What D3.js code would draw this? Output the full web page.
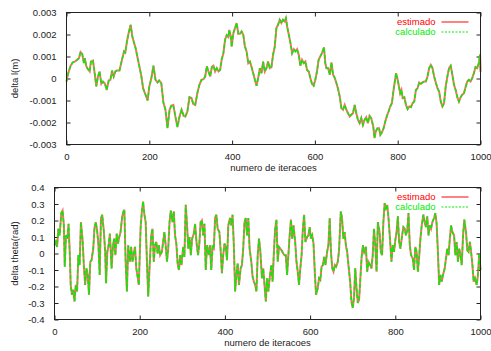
<!DOCTYPE html>
<html>
<head>
<meta charset="utf-8">
<script src="https://cdn.jsdelivr.net/npm/d3@7"></script>
<style>
  html, body { margin: 0; padding: 0; background: #fff; }
  svg text { font-family: "Liberation Sans", Arial, sans-serif; font-size: 9.5px; fill: #222; }
  .frame { fill: none; stroke: #222; stroke-width: 1; }
  .tick line { stroke: #222; }
  .line-est { fill: none; stroke: #ff3030; stroke-width: 2; stroke-opacity: 0.7; }
  .line-calc { fill: none; stroke: #00f000; stroke-width: 1.5; stroke-dasharray: 4 2; }
</style>
</head>
<body>
<svg id="chart" width="491" height="351"></svg>
<script>
// ---- data ----
const xTicks = [0, 200, 400, 600, 800, 1000];
const topYTicks = [-0.003, -0.002, -0.001, 0, 0.001, 0.002, 0.003];
const bottomYTicks = [-0.4, -0.3, -0.2, -0.1, 0, 0.1, 0.2, 0.3, 0.4];
const seriesNames = ["estimado", "calculado"];
const xLabel = "numero de iteracoes";
const topYLabel = "delta l(m)";
const bottomYLabel = "delta theta(rad)";

// delta l: [iteration, value]
const deltaLEstimado = [
  [0,-0.00014],[4,0.00024],[10,0.00058],[15,0.00073],[20,0.00077],[26,0.00085],[30,0.00092],[34,0.0012],
  [38,0.00112],[42,0.0007],[44,0.00092],[48,0.00055],[52,0.00042],[56,0.00032],[59,0.00077],[64,0.00082],
  [68,0.00024],[72,-0.00036],[76,0.00009],[80,0.00032],[84,-0.00024],[88,-0.00014],[93,-0.00024],[97,-0.00052],
  [102,-0.00009],[106,-0.00006],[110,0.00036],[114,0.00009],[118,0.00032],[122,0.00036],[128,0.00036],[134,0.00085],
  [139,0.00123],[142,0.00118],[146,0.00168],[150,0.00206],[155,0.00244],[159,0.00191],[163,0.00164],[167,0.00138],
  [171,0.001],[176,0.00055],[181,0.00009],[185,-0.00044],[191,-0.00074],[196,-0.001],[200,-0.00036],[205,0.00002],
  [210,0.00058],[215,-0.00006],[220,-0.00018],[224,-0.00009],[229,-0.00021],[234,-0.00109],[239,-0.00142],[244,-0.00226],
  [249,-0.00142],[253,-0.00124],[258,-0.0012],[263,-0.00173],[268,-0.00221],[273,-0.00173],[278,-0.00142],[283,-0.0017],
  [287,-0.00173],[292,-0.0015],[297,-0.00085],[302,-0.00089],[306,-0.00115],[311,-0.0012],[316,-0.00067],[321,-0.00029],
  [326,-0.00006],[331,-0.00003],[335,0.00009],[339,0.00055],[343,0.00032],[347,0.00009],[351,0.00052],[355,0.00058],
  [359,0.00032],[363,0.00047],[367,0.00032],[371,0.00039],[375,0.00088],[379,0.00115],[383,0.00176],[387,0.00197],
  [391,0.00188],[393,0.00221],[397,0.00191],[399,0.00145],[403,0.00206],[407,0.00229],[411,0.00252],[415,0.00203],
  [419,0.00203],[423,0.00214],[427,0.00199],[431,0.00145],[435,0.00123],[439,0.0007],[443,0.00077],[447,0.00052],
  [451,0.00024],[455,-0.00006],[459,-0.00033],[463,0.00002],[467,0.00047],[471,0.00024],[475,0.00077],[479,0.00032],
  [483,0.00047],[487,0.00077],[491,0.00047],[495,0.00052],[499,0.00108],[503,0.00145],[507,0.00229],[511,0.00244],
  [515,0.00267],[519,0.00252],[523,0.00267],[527,0.00259],[530,0.00274],[533,0.00236],[537,0.00199],[541,0.00161],
  [545,0.00115],[549,0.00133],[553,0.00123],[557,0.00133],[561,0.00108],[565,0.00058],[569,0.00085],[573,0.0007],
  [577,0.00077],[581,0.00039],[585,0.00032],[589,0.00002],[593,-0.00024],[597,-0.00033],[601,-0.00006],[605,0.00032],
  [609,0.00085],[613,0.001],[617,0.00115],[622,0.00142],[625,0.0007],[628,0.00047],[632,0.00047],[636,0.00017],
  [640,0.00073],[644,0.00017],[648,0.00002],[652,-0.00021],[656,-0.00048],[660,-0.00082],[664,-0.00135],[668,-0.00142],
  [672,-0.0012],[676,-0.00142],[680,-0.00158],[684,-0.00173],[688,-0.00165],[692,-0.00158],[696,-0.0012],[700,-0.00158],
  [704,-0.00188],[708,-0.00203],[712,-0.0018],[716,-0.00211],[720,-0.00188],[724,-0.00176],[728,-0.00203],[732,-0.0017],
  [736,-0.0018],[741,-0.00218],[744,-0.00271],[747,-0.00241],[751,-0.00226],[755,-0.00226],[758,-0.00256],[762,-0.00245],
  [766,-0.00226],[770,-0.00195],[774,-0.0017],[778,-0.0015],[782,-0.00127],[786,-0.00112],[790,-0.00052],[793,-0.00014],
  [796,0.00024],[799,0.00002],[803,-0.00036],[806,-0.00067],[809,-0.00052],[812,-0.00089],[816,-0.00085],[820,-0.0012],
  [824,-0.00139],[828,-0.00127],[832,-0.0013],[836,-0.00112],[840,-0.00105],[844,-0.00052],[848,-0.00044],[852,-0.00018],
  [856,-0.00024],[860,-0.00018],[864,-0.00014],[868,-0.00014],[872,0.00009],[876,0.00047],[880,0.00062],[884,0.00047],
  [888,0.00009],[892,-0.00018],[896,-0.00044],[900,-0.00059],[904,-0.00105],[908,-0.00127],[912,-0.00112],[916,-0.00036],
  [920,0.00009],[924,0.00047],[928,0.00058],[932,0.00017],[936,-0.00029],[940,-0.00052],[944,-0.00085],[948,-0.00105],
  [952,-0.00085],[956,-0.00074],[960,-0.00067],[964,-0.00039],[968,-0.00014],[972,-0.00006],[976,-0.00014],[980,0.00002],
  [984,0.00024],[988,0.00052],[992,0.00047],[996,0.0007],[999,0.0011],[1000,0.0003]
];
// calculado overlaps estimado to within a pixel in the picture
const deltaLCalculado = deltaLEstimado;

// delta theta: [iteration, value]
const deltaThetaEstimado = [
  [0,0.05],[3,0.07],[6,0.04],[9,0.15],[12,0.11],[16,0.245],[19,0.26],[22,0.17],[24,-0.08],[27,0.11],[30,0.09],[33,0.18],
  [36,-0.01],[38,-0.19],[41,-0.25],[44,-0.22],[47,-0.29],[50,-0.19],[53,-0.23],[56,-0.01],[59,-0.07],[62,0.19],[66,0.08],
  [69,-0.08],[72,-0.19],[75,-0.09],[78,-0.13],[81,-0.25],[84,-0.05],[87,-0.04],[91,0.03],[94,0.16],[97,0.19],[100,0.14],
  [103,0.06],[106,-0.13],[109,0.21],[112,0.235],[116,0.13],[119,0.01],[121,-0.18],[124,0.01],[127,0.05],[130,0.12],
  [134,-0.09],[137,0.04],[140,0.09],[143,-0.01],[146,0.12],[149,0.06],[152,0.1],[155,0.13],[159,0.225],[162,0.255],
  [164,0.265],[167,-0.05],[170,-0.23],[173,0.05],[177,-0.05],[180,0.04],[183,-0.05],[186,0],[189,0.04],[192,-0.09],
  [195,-0.14],[198,-0.19],[202,0.15],[205,0.255],[208,0.315],[211,0.235],[214,0.19],[217,-0.05],[220,-0.26],[223,-0.09],
  [227,0.11],[230,0.15],[233,-0.05],[236,0.05],[239,0.07],[242,0],[245,0.05],[248,-0.01],[252,0.01],[255,0.07],[258,0.13],
  [261,0.05],[264,-0.05],[267,0.03],[270,0.19],[273,0.26],[277,0.19],[280,0.255],[283,0.11],[286,0.06],[289,-0.06],
  [292,-0.1],[295,-0.01],[298,-0.07],[302,0.04],[305,-0.02],[308,0.295],[311,0.18],[314,0.03],[317,0.1],[320,-0.01],
  [323,0.09],[327,0.12],[330,0.18],[334,0.05],[337,-0.01],[340,0.06],[343,0.19],[346,0.2],[349,0.11],[352,0.18],
  [355,-0.1],[358,0.05],[362,-0.01],[365,0.05],[368,-0.1],[371,0.04],[374,0.03],[377,0.215],[380,0.235],[383,0.15],
  [387,0.13],[390,0.02],[393,-0.12],[396,-0.01],[399,0.06],[402,0.04],[405,-0.04],[408,0.17],[412,0.215],[415,0.17],
  [418,0.235],[421,0.05],[424,-0.23],[427,-0.13],[430,-0.06],[433,-0.19],[437,-0.09],[440,-0.07],[443,0.03],[446,0.19],
  [449,0.215],[452,0.11],[455,0.215],[458,0.03],[462,-0.05],[465,-0.14],[468,-0.17],[471,-0.19],[474,-0.23],[477,-0.01],
  [480,0.09],[483,0.02],[487,-0.15],[490,-0.09],[493,-0.19],[496,-0.29],[499,-0.15],[502,-0.23],[505,-0.15],[509,-0.07],
  [512,-0.17],[515,0.01],[518,0.15],[521,0.205],[524,-0.05],[527,0.04],[530,0.03],[533,0.02],[537,0],[540,-0.01],
  [543,-0.01],[546,-0.13],[549,-0.01],[552,0.11],[555,0.205],[558,0.09],[561,0.17],[565,0.07],[568,-0.05],[571,-0.11],
  [574,-0.19],[577,-0.09],[580,-0.01],[583,0.15],[586,0.235],[589,0.07],[593,0.1],[596,0.11],[599,0.16],[602,0.09],
  [605,0.11],[608,0.06],[611,-0.11],[614,-0.25],[618,-0.21],[621,-0.15],[624,-0.16],[627,-0.08],[630,-0.07],[633,-0.02],
  [636,-0.07],[640,0.01],[643,0.05],[646,0.215],[649,0.01],[652,-0.09],[655,-0.11],[658,-0.07],[661,-0.08],[665,-0.05],
  [668,0.02],[672,0.255],[675,0.215],[678,0.09],[681,0.13],[684,0.05],[687,0.01],[690,-0.07],[694,-0.17],[697,-0.29],
  [700,-0.33],[703,-0.27],[706,-0.09],[709,-0.21],[712,-0.3],[715,-0.28],[718,-0.15],[721,-0.02],[724,0.05],[727,0.01],
  [731,0.04],[734,-0.11],[737,-0.05],[741,-0.07],[744,-0.09],[747,-0.01],[750,0.15],[753,0.05],[756,-0.11],[759,0.19],
  [763,0.13],[766,0.01],[769,-0.01],[772,0.19],[775,0.305],[778,0.275],[781,0.295],[784,0.215],[787,0.11],[791,-0.05],
  [794,0.05],[797,0.01],[800,0.08],[803,0.13],[806,0.225],[809,0.07],[812,0.03],[816,0.11],[819,0.16],[822,0.15],
  [825,0.11],[828,0.14],[831,0.245],[834,0.05],[837,-0.01],[841,-0.03],[844,-0.1],[847,0.04],[850,0.01],[853,-0.11],
  [856,-0.02],[859,0.09],[862,0.17],[866,0.235],[869,0.19],[872,0.16],[875,0.225],[878,0.11],[881,0.17],[884,0.15],
  [887,0.19],[891,0.215],[894,0.245],[897,0.18],[900,0.01],[903,-0.19],[906,-0.13],[909,-0.17],[912,-0.13],[916,-0.09],
  [919,-0.03],[922,0.03],[925,-0.01],[928,0.09],[931,0.17],[934,0.13],[938,0.11],[941,-0.01],[944,0.07],[947,-0.05],
  [950,0.03],[953,-0.01],[956,-0.07],[959,0.11],[962,0.205],[966,0.13],[969,0.02],[972,0.01],[975,0.07],[978,0.01],
  [981,-0.07],[984,-0.17],[987,-0.15],[991,-0.19],[994,-0.13],[997,0],[1000,-0.1]
];
const deltaThetaCalculado = deltaThetaEstimado;

// ---- drawing ----
const svg = d3.select("#chart");

const fmt = (d) => String(+d.toFixed(3)); // gnuplot style, plain hyphen minus

function drawPanel(box, yTicks, yLabel, estimado, calculado) {
  const x = d3.scaleLinear().domain([0, 1000]).range([box.left, box.right]);
  const y = d3.scaleLinear().domain([yTicks[0], yTicks[yTicks.length - 1]]).range([box.bottom, box.top]);
  const tickLen = 4;

  // inward ticks on all four sides (mirrored)
  svg.append("g")
    .attr("transform", `translate(0,${box.bottom})`)
    .call(d3.axisBottom(x).tickValues(xTicks).tickSize(-tickLen).tickPadding(tickLen + 5).tickFormat(fmt))
    .call((g) => g.select(".domain").remove())
    .call((g) => g.selectAll("text").attr("font-family", null).attr("font-size", null));

  svg.append("g")
    .attr("transform", `translate(0,${box.top})`)
    .call(d3.axisTop(x).tickValues(xTicks).tickSize(-tickLen).tickFormat(""))
    .call((g) => g.select(".domain").remove());

  svg.append("g")
    .attr("transform", `translate(${box.left},0)`)
    .call(d3.axisLeft(y).tickValues(yTicks).tickSize(-tickLen).tickPadding(tickLen + 6).tickFormat(fmt))
    .call((g) => g.select(".domain").remove())
    .call((g) => g.selectAll("text").attr("font-family", null).attr("font-size", null));

  svg.append("g")
    .attr("transform", `translate(${box.right},0)`)
    .call(d3.axisRight(y).tickValues(yTicks).tickSize(-tickLen).tickFormat(""))
    .call((g) => g.select(".domain").remove());

  // series
  const line = d3.line().x((d) => x(d[0])).y((d) => y(d[1]));
  svg.append("path").datum(estimado).attr("class", "line-est").attr("d", line);
  svg.append("path").datum(calculado).attr("class", "line-calc").attr("d", line);

  // frame
  svg.append("rect")
    .attr("class", "frame")
    .attr("x", box.left).attr("y", box.top)
    .attr("width", box.right - box.left).attr("height", box.bottom - box.top);

  // axis titles
  svg.append("text")
    .attr("x", (box.left + box.right) / 2)
    .attr("y", box.bottom + 26)
    .attr("text-anchor", "middle")
    .text(xLabel);

  svg.append("text")
    .attr("transform", `translate(18,${(box.top + box.bottom) / 2}) rotate(-90)`)
    .attr("text-anchor", "middle")
    .text(yLabel);

  // legend
  const legendColors = ["#ff0000", "#00ee00"];
  const legendClasses = ["line-est", "line-calc"];
  seriesNames.forEach((name, i) => {
    const ly = box.top + 9.5 + i * 10;
    svg.append("text")
      .attr("x", box.right - 45)
      .attr("y", ly)
      .attr("dy", "0.35em")
      .attr("text-anchor", "end")
      .style("fill", legendColors[i])
      .text(name);
    svg.append("line")
      .attr("class", legendClasses[i])
      .attr("x1", box.right - 39).attr("x2", box.right - 12)
      .attr("y1", ly).attr("y2", ly)
      .style("stroke-opacity", 1)
      .style("stroke-width", 1.2)
      .style("stroke-dasharray", i === 1 ? "2 1.5" : null);
  });
}

drawPanel({ left: 66.5, right: 480.5, top: 12.5, bottom: 144.5 }, topYTicks, topYLabel, deltaLEstimado, deltaLCalculado);
drawPanel({ left: 54.5, right: 480.5, top: 187.5, bottom: 319.5 }, bottomYTicks, bottomYLabel, deltaThetaEstimado, deltaThetaCalculado);
</script>
</body>
</html>
